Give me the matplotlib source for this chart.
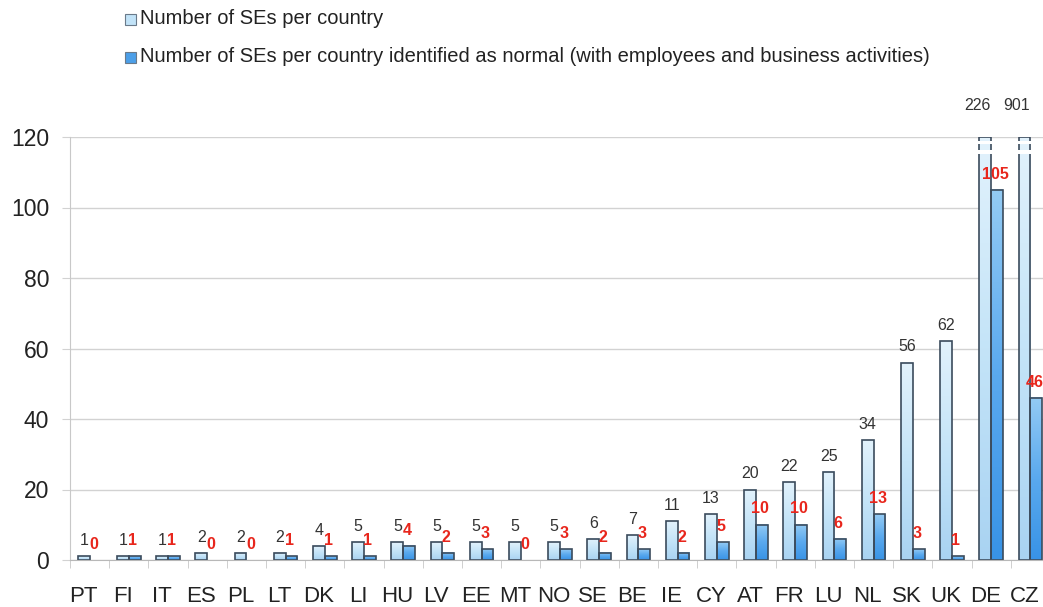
import numpy as np
import matplotlib
matplotlib.use("Agg")
import matplotlib.pyplot as plt
from matplotlib.colors import LinearSegmentedColormap
from matplotlib.patches import Rectangle
from matplotlib.transforms import ScaledTranslation

plt.rcParams["font.family"] = ["Liberation Sans", "DejaVu Sans"]

countries = ["PT", "FI", "IT", "ES", "PL", "LT", "DK", "LI", "HU", "LV", "EE", "MT",
             "NO", "SE", "BE", "IE", "CY", "AT", "FR", "LU", "NL", "SK", "UK", "DE", "CZ"]
total_ses = [1, 1, 1, 2, 2, 2, 4, 5, 5, 5, 5, 5, 5, 6, 7, 11, 13, 20, 22, 25, 34, 56, 62, 226, 901]
normal_ses = [0, 1, 1, 0, 0, 1, 1, 1, 4, 2, 3, 0, 3, 2, 3, 2, 5, 10, 10, 6, 13, 3, 1, 105, 46]
y_ticks = [0, 20, 40, 60, 80, 100, 120]
legend_labels = ["Number of SEs per country",
                 "Number of SEs per country identified as normal (with employees and business activities)"]

YMAX = 120
W = 0.3
EDGE = "#3b4b5c"
light_cmap = LinearSegmentedColormap.from_list("light", ["#a9d3f2", "#c4e4f8", "#e2f2fc"])
dark_cmap = LinearSegmentedColormap.from_list("dark", ["#3893e6", "#5aa9ee", "#94cbf4"])

fig = plt.figure(figsize=(10.43, 6.07), dpi=100)
ax = fig.add_axes([70 / 1043, 47 / 607, 973 / 1043, 423 / 607])

grad = np.linspace(0, 1, 256).reshape(-1, 1)


def gradient_bar(x0, h, cmap):
    if h <= 0:
        return
    hh = min(h, YMAX)
    ax.imshow(grad, cmap=cmap, extent=[x0, x0 + W, 0, hh], origin="lower",
              aspect="auto", zorder=2, interpolation="bicubic")
    ax.add_patch(Rectangle((x0, 0), W, hh, fill=False, edgecolor=EDGE, lw=1.2, zorder=3))


x = np.arange(len(countries))
for i, (t, n) in enumerate(zip(total_ses, normal_ses)):
    gradient_bar(i - W, t, light_cmap)
    gradient_bar(i, n, dark_cmap)

    # break marks on the truncated bars
    if t > YMAX:
        for y0, y1 in [(115.3, 116.2), (117.9, 118.9)]:
            ax.add_patch(Rectangle((i - W - 0.03, y0), W + 0.06, y1 - y0,
                                   facecolor="white", edgecolor="none", zorder=4))

    # value labels
    if t > YMAX:
        ax.annotate(f"{t}", xy=(i - W / 2 - 0.2, YMAX), xytext=(0, 17), textcoords="offset points",
                    ha="center", va="bottom", fontsize=11.5, color="#333333",
                    annotation_clip=False)
    else:
        ax.annotate(f"{t}", xy=(i - W / 2, t), xytext=(0, 6), textcoords="offset points",
                    ha="center", va="bottom", fontsize=11.5, color="#333333")
    ax.annotate(f"{n}", xy=(i + W / 2 - 0.05, n), xytext=(0, 6),
                textcoords="offset points", ha="center", va="bottom", fontsize=11.5,
                color="#e8261c", fontweight="bold", zorder=5)

ax.set_xlim(-0.5, 24.32)
ax.set_ylim(0, YMAX)
ax.set_yticks(y_ticks)
ax.set_yticklabels([str(v) for v in y_ticks])
ax.set_xticks(x)
ax.set_xticklabels(countries)
ax.set_xticks(np.arange(len(countries)) - 0.5, minor=True)

ax.grid(axis="y", color="#d2d2d2", lw=1, zorder=0)
ax.set_axisbelow(True)
for s in ["top", "right"]:
    ax.spines[s].set_visible(False)
ax.spines["left"].set_color("#c8c8c8")
ax.spines["bottom"].set_color("#b8b8b8")
ax.spines["bottom"].set_zorder(6)

ax.tick_params(axis="y", length=6, color="#d2d2d2", pad=9, labelsize=16.5, labelcolor="#222222")
ax.tick_params(axis="x", which="major", length=0, pad=19, labelsize=16, labelcolor="#222222")
ax.tick_params(axis="x", which="minor", length=6, color="#c8c8c8")

# category labels sit a little left of the bar pair
shift = ScaledTranslation(-6 / 100, 0, fig.dpi_scale_trans)
for lab in ax.get_xticklabels():
    lab.set_transform(lab.get_transform() + shift)

# legend
for k, (lab, col) in enumerate(zip(legend_labels, ["#c2e3f8", "#4c9fe8"])):
    yc = 1 - (19 + 38 * k) / 607
    fig.patches.append(Rectangle((125 / 1043, yc - 6 / 607), 11 / 1043, 11 / 607,
                                 transform=fig.transFigure, facecolor=col,
                                 edgecolor="#6a7a8a", lw=0.8))
    fig.text(140 / 1043, yc, lab, ha="left", va="center", fontsize=14.5, color="#222222")

fig.savefig("out.png", dpi=100)
plt.close(fig)
